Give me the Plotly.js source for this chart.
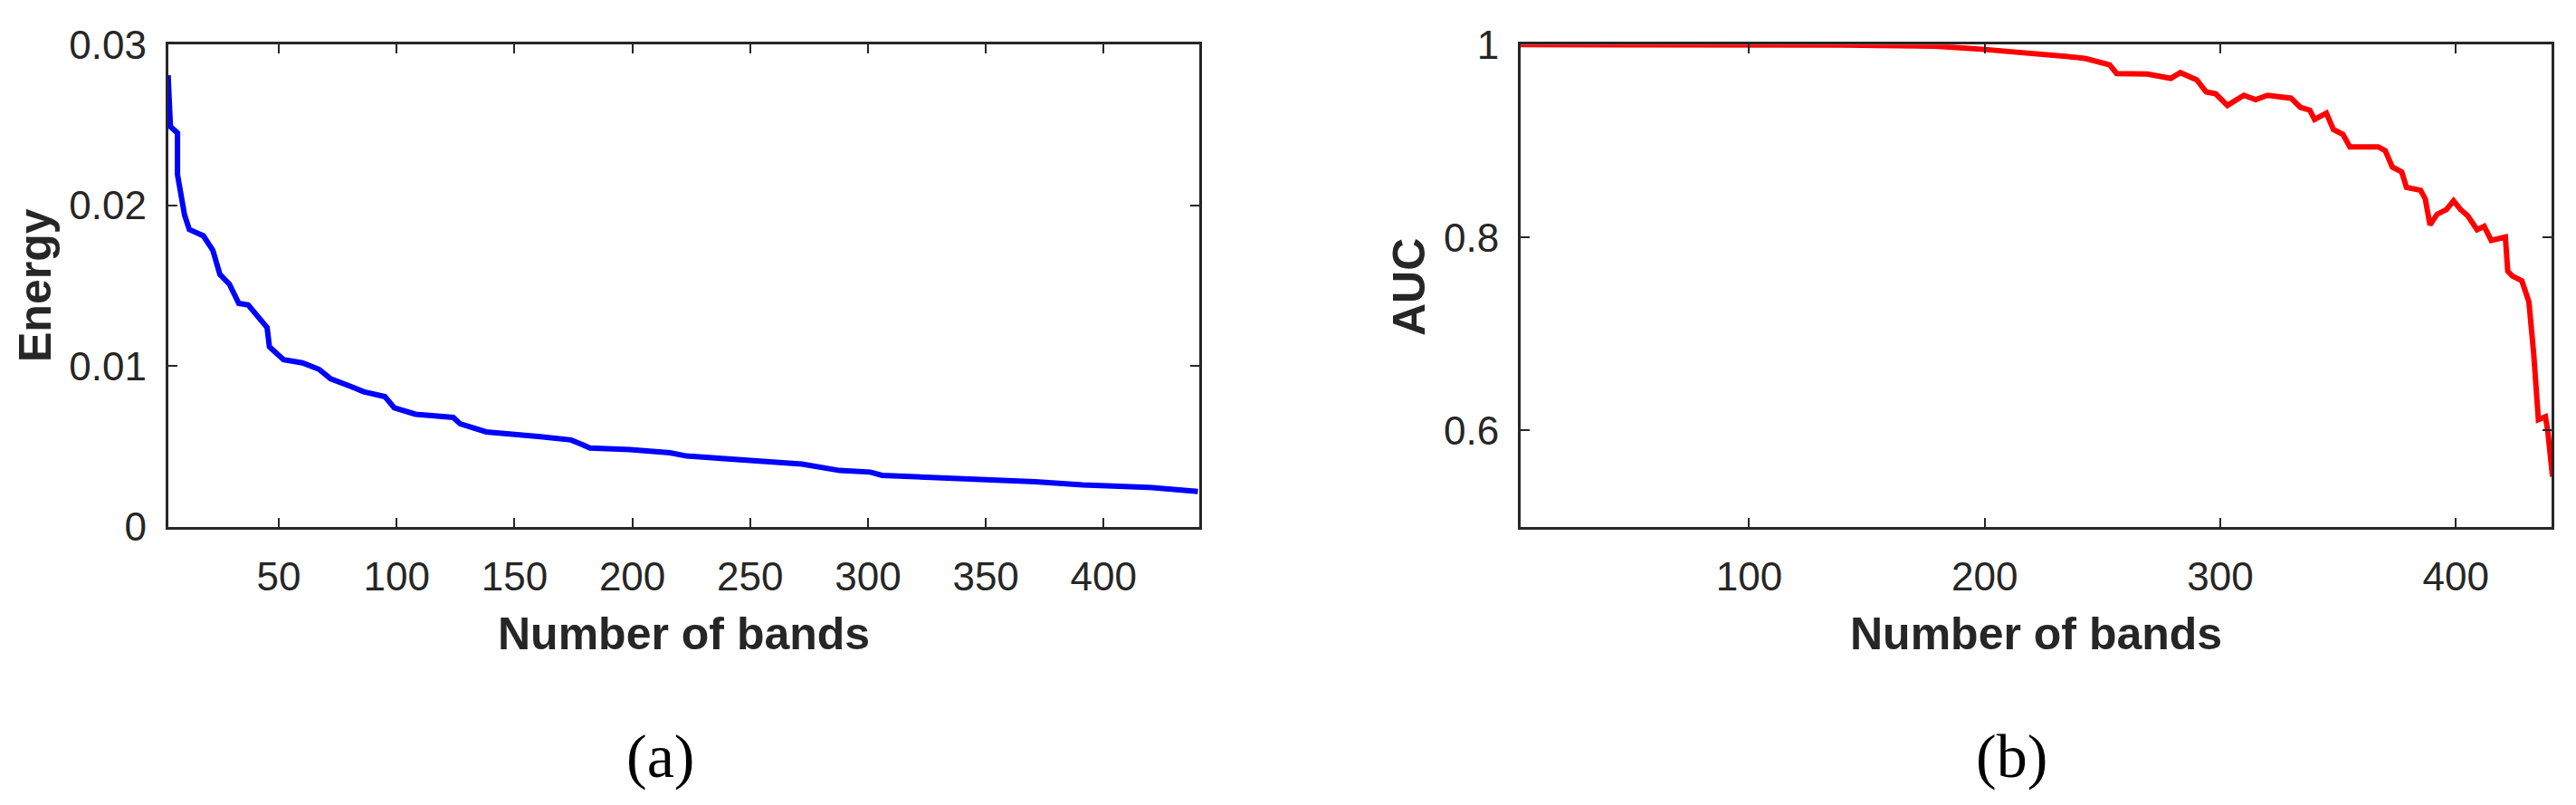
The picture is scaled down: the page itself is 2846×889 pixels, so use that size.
<!DOCTYPE html>
<html>
<head>
<meta charset="utf-8">
<script src="https://cdn.plot.ly/plotly-3.0.1.min.js"></script>
<style>
  html, body { margin: 0; padding: 0; background: #fff; }
  #plotArea { width: 2846px; height: 889px; }
</style>
</head>
<body>
<div id="plotArea"></div>
<script>
// (a) energy per number of bands
var energyBands = [3, 4, 7, 7, 10, 12, 18, 22, 25, 29, 33, 37, 45, 46, 52, 60, 67, 72, 81, 86, 95, 99,
    108, 124, 127, 138, 161, 174, 179, 182, 199, 216, 223, 251, 272, 288, 301, 306, 343, 371, 391, 419, 440];
var energyValues = [0.0281, 0.0249, 0.0245, 0.0219, 0.0194, 0.0185, 0.0181, 0.0172, 0.0157, 0.0151, 0.0139,
    0.0138, 0.0124, 0.0112, 0.0104, 0.0102, 0.0098, 0.0092, 0.0087, 0.0084, 0.0081, 0.0074, 0.0070, 0.0068,
    0.0064, 0.0059, 0.0056, 0.0054, 0.0051, 0.0049, 0.0048, 0.0046, 0.0044, 0.0041, 0.0039, 0.0035, 0.0034,
    0.0032, 0.0030, 0.0028, 0.0026, 0.00245, 0.0022];

// (b) AUC per number of bands
var aucBands = [3, 100, 140, 179, 200, 238, 243, 253, 256, 269, 279, 283, 290, 294, 298, 303, 310, 315, 320,
    330, 334, 338, 340, 345, 348, 352, 355, 367, 370, 373, 377, 379, 385, 387, 389, 392, 396, 399, 402, 405,
    409, 412, 415, 421, 422, 424, 428, 431, 433, 435, 438, 439, 441];
var aucValues = [1.0, 1.0, 0.9995, 0.9985, 0.995, 0.987, 0.9855, 0.979, 0.970, 0.9695, 0.965, 0.971, 0.9635,
    0.951, 0.949, 0.937, 0.9475, 0.943, 0.9475, 0.9445, 0.935, 0.932, 0.9225, 0.929, 0.912, 0.907, 0.894,
    0.894, 0.89, 0.873, 0.868, 0.852, 0.849, 0.84, 0.813, 0.824, 0.829, 0.838, 0.829, 0.8225, 0.808, 0.8115,
    0.797, 0.8005, 0.765, 0.76, 0.755, 0.733, 0.68, 0.611, 0.614, 0.599, 0.552];

var energyTicks = [50, 100, 150, 200, 250, 300, 350, 400];
var aucTicks = [100, 200, 300, 400];
var energyYTicks = [0, 0.01, 0.02, 0.03];
var aucYTicks = [0.6, 0.8, 1];
var aucYLabels = ["0.6", "0.8", "1"];

var axisColor = "#262626";
var tickFont = {family: "Liberation Sans, Arial, sans-serif", size: 44, color: axisColor};
var titleFont = {family: "Liberation Sans, Arial, sans-serif", size: 50, color: axisColor, weight: "bold"};

function axisStyle(extra) {
    var base = {
        showline: true, mirror: "ticks", linecolor: axisColor, linewidth: 3,
        ticks: "inside", ticklen: 10, tickwidth: 2, tickcolor: axisColor,
        showgrid: false, zeroline: false, tickfont: tickFont, automargin: false,
        fixedrange: true
    };
    for (var k in extra) base[k] = extra[k];
    return base;
}

var data = [
    {x: energyBands, y: energyValues, type: "scatter", mode: "lines",
     line: {color: "#0000ff", width: 6}, xaxis: "x", yaxis: "y"},
    {x: aucBands, y: aucValues, type: "scatter", mode: "lines",
     line: {color: "#ff0000", width: 6}, xaxis: "x2", yaxis: "y2"}
];

var yDom = [1 - 581.7 / 889, 1 - 49.3 / 889];

var layout = {
    width: 2846, height: 889,
    margin: {l: 0, r: 0, t: 0, b: 0},
    paper_bgcolor: "#fff", plot_bgcolor: "#fff",
    showlegend: false,
    xaxis: axisStyle({domain: [185.7 / 2846, 1325 / 2846], range: [3, 440.6],
        tickvals: energyTicks, ticklabelstandoff: 14, anchor: "y"}),
    yaxis: axisStyle({domain: yDom, range: [0, 0.03], tickvals: energyYTicks,
        ticklabelstandoff: 12, anchor: "x"}),
    xaxis2: axisStyle({domain: [1680 / 2846, 2819 / 2846], range: [3, 440.6],
        tickvals: aucTicks, ticklabelstandoff: 14, anchor: "y2"}),
    yaxis2: axisStyle({domain: yDom, range: [0.5, 1], tickvals: aucYTicks, ticktext: aucYLabels,
        ticklabelstandoff: 12, anchor: "x2"}),
    annotations: [
        {text: "Number of bands", x: 755 / 2846, y: 1 - 700 / 889, xref: "paper", yref: "paper",
         showarrow: false, font: titleFont, xanchor: "center", yanchor: "middle"},
        {text: "Number of bands", x: 2249 / 2846, y: 1 - 700 / 889, xref: "paper", yref: "paper",
         showarrow: false, font: titleFont, xanchor: "center", yanchor: "middle"},
        {text: "Energy", x: 39 / 2846, y: 1 - 315 / 889, xref: "paper", yref: "paper",
         showarrow: false, font: titleFont, textangle: -90, xanchor: "center", yanchor: "middle"},
        {text: "AUC", x: 1557 / 2846, y: 1 - 317 / 889, xref: "paper", yref: "paper",
         showarrow: false, font: titleFont, textangle: -90, xanchor: "center", yanchor: "middle"},
        {text: "(a)", x: 729 / 2846, y: 1 - 835 / 889, xref: "paper", yref: "paper",
         showarrow: false, font: {family: "Liberation Serif, Times New Roman, serif", size: 68, color: "#000"},
         xanchor: "center", yanchor: "middle"},
        {text: "(b)", x: 2222 / 2846, y: 1 - 835 / 889, xref: "paper", yref: "paper",
         showarrow: false, font: {family: "Liberation Serif, Times New Roman, serif", size: 68, color: "#000"},
         xanchor: "center", yanchor: "middle"}
    ]
};

Plotly.newPlot("plotArea", data, layout, {displayModeBar: false, staticPlot: true});
</script>
</body>
</html>
